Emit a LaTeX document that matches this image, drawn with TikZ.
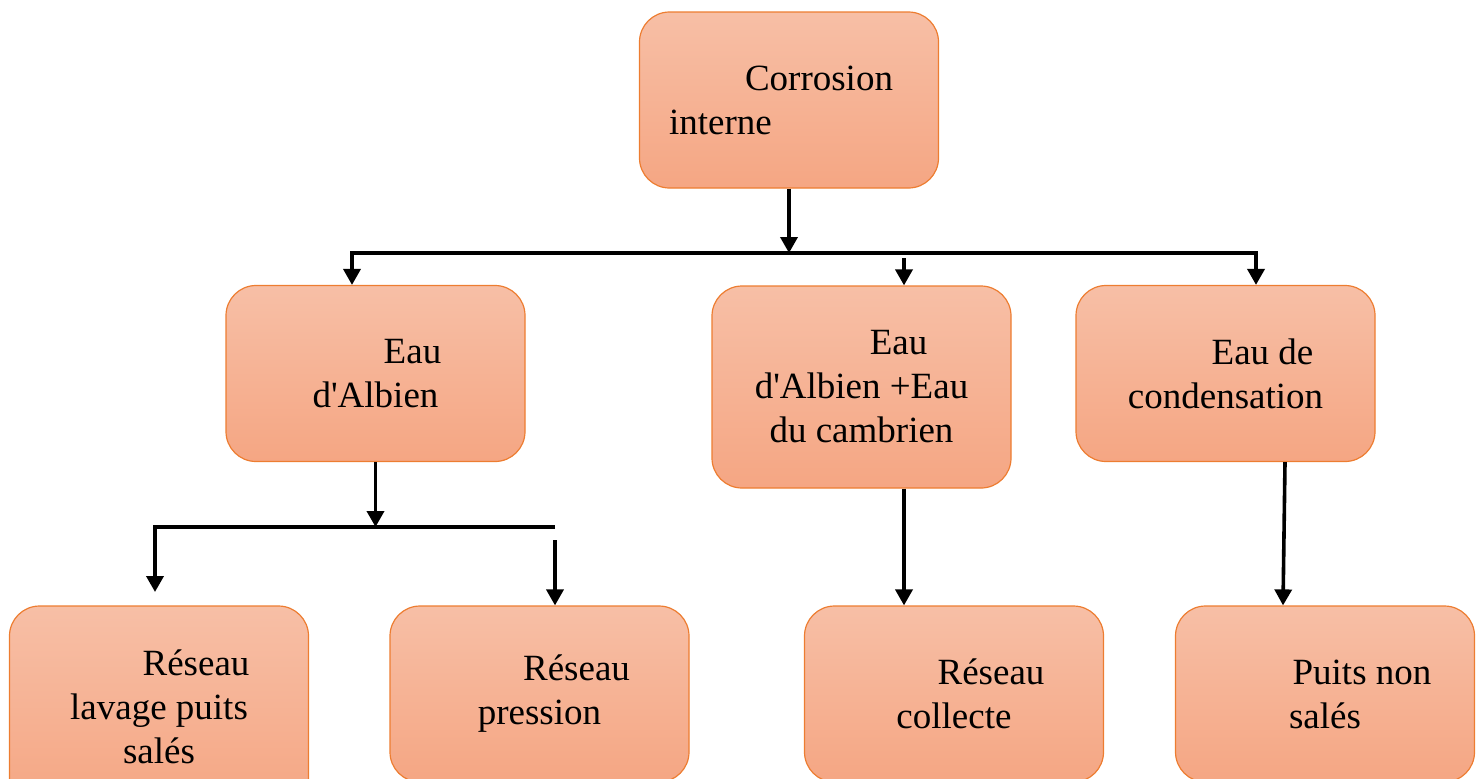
\documentclass[tikz,border=0pt]{standalone}
\usepackage{fontspec}
\setmainfont{Liberation Serif}
\usetikzlibrary{arrows.meta,positioning}
\definecolor{boxtop}{RGB}{247,191,166}
\definecolor{boxbottom}{RGB}{245,166,131}
\definecolor{boxline}{RGB}{237,125,49}

\begin{document}
\begin{tikzpicture}[x=0.5pt,y=-0.5pt,
  box/.style={draw=boxline,line width=0.6pt,rounded corners=15pt,
    top color=boxtop,bottom color=boxbottom,minimum width=149.5pt,
    minimum height=88pt,inner sep=0pt,align=center,
    font=\fontsize{18.5}{22}\selectfont},
  tallbox/.style={box,minimum height=101pt},
  arrow/.style={line width=1.8pt,-{Triangle[length=8pt,width=8.5pt]}},
  twoway/.style={line width=1.8pt,
    {Triangle[length=8pt,width=8.5pt]}-{Triangle[length=8pt,width=8.5pt]}}]
  \useasboundingbox (0,0) rectangle (1482,778);

  % boxes
  \node[box,align=left,text width=120pt] (top) at (789,100)
    {\hspace*{38pt}Corrosion\\interne};
  \node[box] (albien) at (375.5,373.5) {\hspace*{37pt}Eau\\d\textquotesingle Albien};
  \node[tallbox] (mix) at (861.5,387)
    {\hspace*{37pt}Eau\\d\textquotesingle Albien +Eau\\du cambrien};
  \node[box] (cond) at (1225.5,373.5) {\hspace*{37pt}Eau de\\condensation};
  \node[tallbox] (lavage) at (159,707)
    {\hspace*{37pt}Réseau\\lavage puits\\salés};
  \node[box] (pression) at (539.5,694) {\hspace*{37pt}Réseau\\pression};
  \node[box] (collecte) at (954,694) {\hspace*{37pt}Réseau\\collecte};
  \node[box] (puits) at (1325,694) {\hspace*{37pt}Puits non\\salés};

  % connectors
  \coordinate (barL) at (352,253);
  \coordinate (barR) at (1256,253);
  \coordinate (midstart) at (904,258);
  \coordinate (subL) at (155,527);
  \coordinate (subR) at (555,527);
  \coordinate (lavtip) at (155,592);
  \coordinate (presstart) at (555,540);

  \draw[arrow] (top.south) -- (top.south |- barL);
  \draw[twoway] (barL |- albien.north) -- (barL) -- (barR) -- (barR |- cond.north);
  \draw[arrow] (midstart) -- (midstart |- mix.north);

  \draw[arrow] (albien.south) -- (albien.south |- subL);
  \draw[arrow] (subR) -- (subL) -- (lavtip);
  \draw[arrow] (presstart) -- (presstart |- pression.north);

  \draw[arrow] ([xshift=21.25pt]mix.south) -- ([xshift=21.25pt]mix.south |- collecte.north);
  \draw[arrow] ([xshift=29.75pt]cond.south) -- ([xshift=-21pt]puits.north);
\end{tikzpicture}
\end{document}
